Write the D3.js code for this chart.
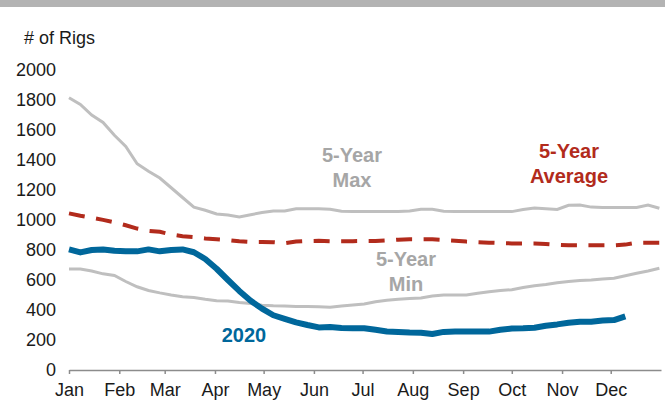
<!DOCTYPE html>
<html>
<head>
<meta charset="utf-8">
<script src="https://cdn.jsdelivr.net/npm/d3@7"></script>
<style>
  body { margin: 0; background: #fff; }
  svg { display: block; font-family: 'Liberation Sans', Arial, sans-serif; }
  .axis path, .axis line { stroke: #8c8c8c; stroke-width: 1.5; }
  .axis text { fill: #1a1a1a; font-size: 18px; }
</style>
</head>
<body>
<div id="chart-area"></div>
<script>
// weekly rig counts, one value per week starting Jan 1
const maxData = [1815, 1770, 1700, 1650, 1565, 1490, 1375, 1325, 1280, 1215, 1150, 1085, 1065, 1040,
  1033, 1020, 1035, 1050, 1060, 1060, 1075, 1075, 1075, 1072, 1058, 1056, 1056, 1056, 1056, 1056,
  1060, 1071, 1071, 1058, 1056, 1056, 1056, 1056, 1056, 1056, 1070, 1080, 1075, 1070, 1098, 1100,
  1086, 1084, 1084, 1084, 1084, 1100, 1078];
const minData = [673, 673, 660, 641, 630, 590, 555, 530, 514, 500, 488, 484, 472, 462, 460, 450,
  444, 432, 428, 426, 424, 423, 422, 418, 427, 433, 440, 455, 465, 472, 476, 480, 493, 500, 500,
  500, 512, 522, 530, 535, 550, 562, 570, 582, 590, 596, 600, 606, 612, 628, 645, 660, 678];
const avgData = [1044, 1028, 1015, 1001, 985, 965, 943, 928, 921, 903, 892, 886, 877, 872, 866,
  858, 853, 853, 852, 846, 856, 860, 861, 858, 858, 859, 860, 860, 864, 869, 871, 871, 871, 867,
  862, 856, 852, 849, 846, 844, 844, 844, 840, 834, 831, 831, 831, 831, 831, 836, 849, 849, 849];
const data2020 = [804, 784, 800, 804, 795, 791, 791, 804, 791, 800, 804, 785, 740, 675, 600, 527,
  462, 409, 365, 341, 318, 300, 284, 287, 280, 278, 278, 268, 257, 253, 250, 249, 240, 254, 256,
  256, 256, 256, 268, 276, 278, 282, 295, 304, 315, 322, 322, 330, 333, 358];

const monthNames = ['Jan', 'Feb', 'Mar', 'Apr', 'May', 'Jun', 'Jul', 'Aug', 'Sep', 'Oct', 'Nov', 'Dec'];
const monthStarts = [0, 31, 59, 90, 120, 151, 181, 212, 243, 273, 304, 334];
const yTicks = [0, 200, 400, 600, 800, 1000, 1200, 1400, 1600, 1800, 2000];

const width = 665;
const height = 404;

const svg = d3
  .select('#chart-area')
  .append('svg')
  .attr('width', width)
  .attr('height', height);

// top grey band
svg.append('rect')
  .attr('x', 0).attr('y', 0)
  .attr('width', width).attr('height', 7)
  .attr('fill', '#b3b3b3');

// scales - x is day of year
const x = d3.scaleLinear().domain([0, 365]).range([69, 661]);
const y = d3.scaleLinear().domain([0, 2000]).range([370, 70]);

const line = d3
  .line()
  .x((d, i) => x(i * 7))
  .y((d) => y(d));

// x axis
const xAxisCall = d3
  .axisBottom(x)
  .tickValues(monthStarts)
  .tickSize(4)
  .tickSizeOuter(0)
  .tickPadding(9)
  .tickFormat((d, i) => monthNames[i]);

svg.append('g')
  .attr('class', 'x axis')
  .attr('transform', `translate(0, ${y(0)})`)
  .call(xAxisCall);

// y axis, labels only
const yAxisCall = d3
  .axisLeft(y)
  .tickValues(yTicks)
  .tickSize(0)
  .tickPadding(13)
  .tickFormat(d3.format('d'));
const yAxis = svg.append('g')
  .attr('class', 'y axis')
  .attr('transform', `translate(69, 0)`)
  .call(yAxisCall);
yAxis.select('.domain').remove();

svg.append('text')
  .attr('x', 24)
  .attr('y', 44)
  .attr('font-size', 18)
  .attr('fill', '#1a1a1a')
  .text('# of Rigs');

// lines
svg.append('path')
  .attr('fill', 'none')
  .attr('stroke', '#bfbfbf')
  .attr('stroke-width', 3)
  .attr('d', line(maxData));

svg.append('path')
  .attr('fill', 'none')
  .attr('stroke', '#bfbfbf')
  .attr('stroke-width', 3)
  .attr('d', line(minData));

svg.append('path')
  .attr('fill', 'none')
  .attr('stroke', '#b22b1c')
  .attr('stroke-width', 4)
  .attr('stroke-dasharray', '16,11.5')
  .attr('d', line(avgData));

svg.append('path')
  .attr('fill', 'none')
  .attr('stroke', '#00679b')
  .attr('stroke-width', 6)
  .attr('stroke-linejoin', 'round')
  .attr('d', line(data2020));

// series labels
const labels = [
  { lines: ['5-Year', 'Max'], x: 352, y: 162, color: '#a6a6a6' },
  { lines: ['5-Year', 'Average'], x: 569, y: 158, color: '#b22b1c' },
  { lines: ['5-Year', 'Min'], x: 406, y: 266, color: '#a6a6a6' },
  { lines: ['2020'], x: 244, y: 342, color: '#00679b' },
];

labels.forEach((l) => {
  const t = svg.append('text')
    .attr('text-anchor', 'middle')
    .attr('font-size', 20)
    .attr('font-weight', 'bold')
    .attr('fill', l.color);
  l.lines.forEach((s, i) => {
    t.append('tspan').attr('x', l.x).attr('y', l.y + i * 25).text(s);
  });
});
</script>
</body>
</html>
